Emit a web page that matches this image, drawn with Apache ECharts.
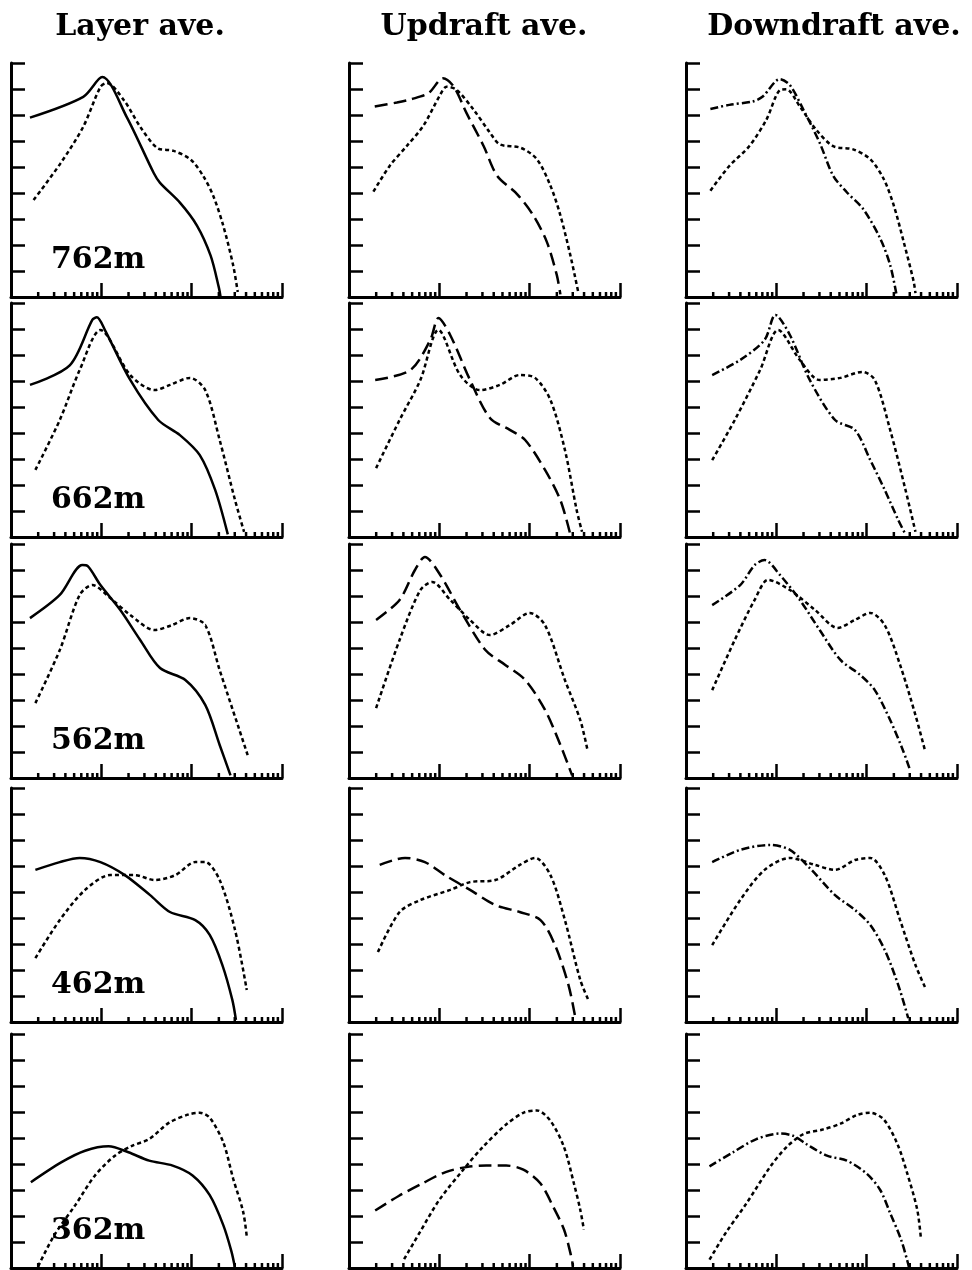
<!DOCTYPE html>
<html><head><meta charset="utf-8">
<script src="https://cdn.jsdelivr.net/npm/echarts@6/dist/echarts.min.js"></script>
<style>html,body{margin:0;padding:0;background:#fff}#c{width:972px;height:1270px}</style>
</head><body><div id="c"></div>
<script>
// ---- text ----
const columnTitles = ['Layer ave.', 'Updraft ave.', 'Downdraft ave.'];
const heightLabels = ['762m', '662m', '562m', '462m', '362m'];
// ---- axes (x in log10 units over three decades, y in 9 tick steps) ----
const xRange = [0, 3];
const yRange = [0, 9];
const xMinorTickValues = [2,3,4,5,6,7,8,9, 20,30,40,50,60,70,80,90, 200,300,400,500,600,700,800,900];

// ---- data: [log10 x, y] ----
const layer762Main = [[0.21,6.90],[0.80,7.70],[1.01,8.46],[1.28,6.93],[1.58,4.77],[1.65,4.39],[1.87,3.63],[2.06,2.74],[2.21,1.59],[2.30,0.38],[2.32,0]];
const layer762Dot  = [[0.25,3.73],[0.55,5.15],[0.80,6.55],[0.99,8.08],[1.06,8.23],[1.25,7.57],[1.43,6.55],[1.62,5.73],[1.80,5.62],[1.99,5.28],[2.13,4.64],[2.24,3.88],[2.35,2.74],[2.46,1.21],[2.51,0.19]];
const up762Main = [[0.285,7.33],[0.53,7.48],[0.69,7.61],[0.88,7.84],[1.04,8.41],[1.16,8.09],[1.30,7.08],[1.49,5.81],[1.64,4.66],[1.86,3.96],[2.04,3.14],[2.19,2.12],[2.30,0.85],[2.34,0.1]];
const up762Dot  = [[0.27,4.05],[0.45,5.04],[0.64,5.81],[0.82,6.57],[1.01,7.78],[1.08,8.09],[1.19,7.97],[1.38,7.20],[1.56,6.32],[1.67,5.87],[1.90,5.74],[2.08,5.30],[2.23,4.28],[2.34,3.14],[2.45,1.61],[2.54,0.15]];
const dn762Main = [[0.27,7.23],[0.48,7.39],[0.74,7.52],[0.85,7.71],[1.04,8.38],[1.15,8.15],[1.30,7.20],[1.48,5.93],[1.63,4.66],[1.78,4.03],[1.96,3.39],[2.15,2.25],[2.26,1.23],[2.33,0.1]];
const dn762Dot  = [[0.27,4.09],[0.48,5.04],[0.70,5.80],[0.89,6.82],[1.04,7.96],[1.11,7.99],[1.26,7.33],[1.44,6.44],[1.63,5.80],[1.85,5.68],[2.04,5.30],[2.19,4.53],[2.30,3.52],[2.41,2.12],[2.52,0.60],[2.54,0.15]];

const layer662Main = [[0.21,5.85],[0.65,6.6],[0.90,8.35],[0.95,8.45],[1.04,7.96],[1.32,6.04],[1.63,4.5],[1.87,3.92],[2.09,3.15],[2.26,1.81],[2.40,0.1]];
const layer662Dot  = [[0.27,2.58],[0.54,4.5],[0.76,6.42],[0.99,7.96],[1.32,6.23],[1.59,5.65],[1.76,5.85],[1.98,6.12],[2.15,5.65],[2.31,3.73],[2.48,1.42],[2.58,0.2]];
const up662Main = [[0.29,6.04],[0.68,6.42],[0.90,7.58],[0.99,8.42],[1.12,7.77],[1.34,6.04],[1.56,4.58],[1.78,4.12],[1.95,3.73],[2.17,2.58],[2.34,1.42],[2.45,0.1]];
const up662Dot  = [[0.30,2.65],[0.56,4.5],[0.79,6.04],[0.99,7.96],[1.23,6.23],[1.45,5.65],[1.67,5.85],[1.89,6.23],[2.06,6.12],[2.23,5.27],[2.39,3.35],[2.52,1.04],[2.58,0.2]];
const dn662Main = [[0.29,6.23],[0.60,6.81],[0.87,7.58],[0.99,8.54],[1.15,7.77],[1.37,6.04],[1.65,4.5],[1.87,4.12],[2.04,2.96],[2.20,1.81],[2.35,0.65],[2.43,0.1]];
const dn662Dot  = [[0.29,2.96],[0.54,4.5],[0.82,6.42],[1.02,7.96],[1.26,6.81],[1.48,6.04],[1.71,6.12],[1.95,6.35],[2.09,6.04],[2.26,4.12],[2.43,1.81],[2.54,0.2]];

const layer562Main = [[0.21,6.15],[0.54,7.04],[0.79,8.19],[0.85,8.15],[0.99,7.42],[1.21,6.46],[1.43,5.31],[1.65,4.23],[1.93,3.77],[2.15,2.81],[2.31,1.27],[2.43,0.1]];
const layer562Dot  = [[0.27,2.88],[0.54,4.92],[0.76,7.04],[0.90,7.42],[1.10,6.92],[1.32,6.27],[1.59,5.69],[1.78,5.88],[1.98,6.15],[2.15,5.88],[2.31,4.15],[2.51,2.04],[2.62,0.88]];
const up562Main = [[0.30,6.08],[0.56,6.85],[0.73,8.0],[0.84,8.5],[1.01,7.81],[1.23,6.46],[1.51,4.92],[1.73,4.35],[1.95,3.77],[2.17,2.62],[2.34,1.27],[2.47,0.1]];
const up562Dot  = [[0.30,2.69],[0.56,5.31],[0.79,7.23],[0.92,7.54],[1.12,6.85],[1.34,6.08],[1.56,5.5],[1.78,5.88],[2.00,6.35],[2.17,5.88],[2.39,3.77],[2.56,2.23],[2.64,1.08]];
const dn562Main = [[0.29,6.65],[0.60,7.42],[0.76,8.19],[0.87,8.38],[1.04,7.81],[1.26,6.85],[1.48,5.69],[1.71,4.54],[1.93,3.96],[2.09,3.38],[2.26,2.23],[2.40,1.08],[2.48,0.31]];
const dn562Dot  = [[0.29,3.38],[0.54,5.31],[0.76,6.85],[0.91,7.62],[1.15,7.23],[1.43,6.46],[1.68,5.77],[1.87,6.08],[2.04,6.35],[2.20,5.88],[2.37,4.35],[2.54,2.42],[2.65,1.0]];

const layer462Main = [[0.27,5.85],[0.54,6.15],[0.76,6.31],[0.99,6.15],[1.26,5.65],[1.54,4.88],[1.76,4.23],[2.04,3.92],[2.20,3.35],[2.34,2.19],[2.45,0.85],[2.49,0.08]];
const layer462Dot  = [[0.27,2.46],[0.54,3.92],[0.82,5.08],[1.10,5.65],[1.37,5.65],[1.59,5.46],[1.82,5.65],[2.04,6.15],[2.15,6.15],[2.31,5.46],[2.48,3.54],[2.61,1.23]];
const up462Main = [[0.34,6.04],[0.62,6.31],[0.84,6.15],[1.06,5.65],[1.34,5.08],[1.62,4.5],[1.89,4.23],[2.12,3.92],[2.28,2.96],[2.43,1.42],[2.51,0.08]];
const up462Dot  = [[0.32,2.69],[0.56,4.23],[0.79,4.69],[1.12,5.08],[1.34,5.38],[1.62,5.46],[1.89,6.04],[2.06,6.31],[2.23,5.65],[2.39,3.92],[2.56,1.62],[2.65,0.85]];
const dn462Main = [[0.29,6.15],[0.60,6.62],[0.93,6.81],[1.15,6.62],[1.37,5.92],[1.65,4.88],[1.87,4.31],[2.04,3.73],[2.20,2.77],[2.35,1.42],[2.46,0.15]];
const dn462Dot  = [[0.29,2.96],[0.60,4.69],[0.87,5.85],[1.15,6.31],[1.43,6.04],[1.65,5.85],[1.87,6.23],[2.04,6.31],[2.20,5.65],[2.37,3.92],[2.54,2.19],[2.65,1.31]];

const layer362Main = [[0.22,3.30],[0.56,4.07],[0.82,4.51],[1.08,4.68],[1.30,4.45],[1.53,4.13],[1.79,3.94],[2.01,3.56],[2.20,2.80],[2.35,1.65],[2.44,0.64],[2.48,0]];
const layer362Dot  = [[0.30,0.06],[0.48,1.27],[0.71,2.41],[0.93,3.56],[1.15,4.32],[1.34,4.70],[1.53,4.96],[1.75,5.59],[1.97,5.91],[2.09,5.97],[2.20,5.78],[2.35,4.83],[2.46,3.43],[2.57,2.16],[2.61,1.21]];
const up362Main = [[0.29,2.21],[0.55,2.77],[0.81,3.25],[1.07,3.69],[1.30,3.88],[1.52,3.94],[1.74,3.94],[1.93,3.78],[2.12,3.25],[2.26,2.36],[2.38,1.48],[2.45,0.59],[2.48,0.09]];
const up362Dot  = [[0.61,0.34],[0.78,1.35],[1.00,2.62],[1.26,3.76],[1.48,4.65],[1.74,5.52],[1.93,5.97],[2.08,6.06],[2.23,5.66],[2.38,4.65],[2.49,3.25],[2.56,2.24],[2.60,1.48]];
const dn362Main = [[0.26,3.91],[0.52,4.45],[0.78,4.96],[1.04,5.17],[1.19,5.08],[1.33,4.77],[1.56,4.32],[1.78,4.13],[2.00,3.63],[2.15,3.00],[2.26,2.11],[2.38,1.10],[2.45,0.28],[2.47,0]];
const dn362Dot  = [[0.26,0.32],[0.44,1.35],[0.67,2.49],[0.93,3.88],[1.11,4.64],[1.30,5.15],[1.52,5.33],[1.71,5.55],[1.89,5.88],[2.04,5.97],[2.19,5.71],[2.34,4.77],[2.45,3.63],[2.56,2.24],[2.60,1.16]];

const panelRows = [
  [[layer762Main, layer762Dot], [up762Main, up762Dot], [dn762Main, dn762Dot]],
  [[layer662Main, layer662Dot], [up662Main, up662Dot], [dn662Main, dn662Dot]],
  [[layer562Main, layer562Dot], [up562Main, up562Dot], [dn562Main, dn562Dot]],
  [[layer462Main, layer462Dot], [up462Main, up462Dot], [dn462Main, dn462Dot]],
  [[layer362Main, layer362Dot], [up362Main, up362Dot], [dn362Main, dn362Dot]]
];

// ---- layout / style ----
const colLeft = [11, 349, 686], panelW = 271;
const rowBottom = [297, 537, 778, 1022, 1268], panelH = 234;
const titleX = [140, 484, 834];
const mainDash = ['solid', [13, 6], [8, 3, 2, 3]];
const dotDash = [4, 3];
const ink = '#000';

const grids = [], xAxes = [], yAxes = [], series = [], graphics = [];
const minorData = xMinorTickValues.map(v => [Math.log10(v), yRange[0]]);

panelRows.forEach((row, r) => {
  row.forEach((pair, c) => {
    const i = grids.length;
    grids.push({ left: colLeft[c], top: rowBottom[r] - panelH, width: panelW, height: panelH });
    xAxes.push({
      gridIndex: i, type: 'value', min: xRange[0], max: xRange[1], interval: 1,
      axisLine: { show: true, onZero: false, lineStyle: { color: ink, width: 3 } },
      axisTick: { show: true, inside: true, length: 14, lineStyle: { color: ink, width: 2.5 } },
      axisLabel: { show: false }, splitLine: { show: false }
    });
    yAxes.push({
      gridIndex: i, type: 'value', min: yRange[0], max: yRange[1], interval: 1,
      axisLine: { show: true, onZero: false, lineStyle: { color: ink, width: 3 } },
      axisTick: { show: true, inside: true, length: 14, lineStyle: { color: ink, width: 2.5 } },
      axisLabel: { show: false }, splitLine: { show: false }
    });
    series.push({
      type: 'custom', xAxisIndex: i, yAxisIndex: i, data: minorData, silent: true, clip: false,
      renderItem: (params, api) => {
        const p = api.coord([api.value(0), api.value(1)]);
        return { type: 'line', shape: { x1: p[0], y1: p[1], x2: p[0], y2: p[1] - 5 },
                 style: { stroke: ink, lineWidth: 2.5 } };
      }
    });
    series.push({
      type: 'line', xAxisIndex: i, yAxisIndex: i, data: pair[0], showSymbol: false, smooth: 0.3,
      silent: true, lineStyle: { color: ink, width: 2.5, type: mainDash[c] }
    });
    series.push({
      type: 'line', xAxisIndex: i, yAxisIndex: i, data: pair[1], showSymbol: false, smooth: 0.3,
      silent: true, lineStyle: { color: ink, width: 2.5, type: dotDash }
    });
  });
  graphics.push({
    type: 'text', x: colLeft[0] + 40, y: rowBottom[r] - 37,
    style: { text: heightLabels[r], font: 'bold 30px "DejaVu Serif"', fill: ink,
             align: 'left', verticalAlign: 'middle', textAlign: 'left', textVerticalAlign: 'middle' }
  });
});
columnTitles.forEach((t, c) => {
  graphics.push({
    type: 'text', x: titleX[c], y: 27,
    style: { text: t, font: 'bold 30px "DejaVu Serif"', fill: ink,
             align: 'center', verticalAlign: 'middle', textAlign: 'center', textVerticalAlign: 'middle' }
  });
});

const chart = echarts.init(document.getElementById('c'), null, { renderer: 'canvas' });
chart.setOption({
  animation: false,
  backgroundColor: '#fff',
  grid: grids, xAxis: xAxes, yAxis: yAxes, series: series, graphic: graphics
});
</script>
</body></html>
